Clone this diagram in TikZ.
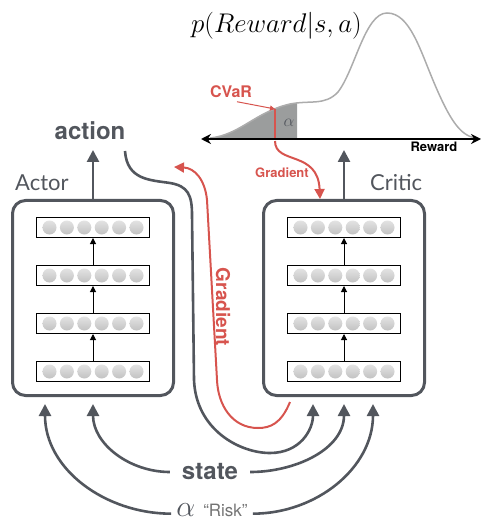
\RequirePackage{fix-cm}
\documentclass[tikz,border=0pt]{standalone}
\usepackage{fontspec}
\newfontfamily\heros{TeX Gyre Heros}
\newfontfamily\lightfont{Lato}
\usetikzlibrary{positioning,arrows.meta}
\definecolor{slate}{RGB}{82,86,93}
\definecolor{gradred}{RGB}{215,84,78}
\definecolor{densgray}{RGB}{172,172,172}
\definecolor{tailgray}{RGB}{155,157,157}

\begin{document}
\begin{tikzpicture}[x=1pt, y=-1pt, node distance = 27pt,
	netbox/.style = { rectangle, draw=slate, line width=3pt,
	rounded corners=13pt, minimum width=161pt, minimum height=195pt},
	layer/.style = { rectangle, draw=black, line width=1pt, fill=white,
	minimum width=113pt, minimum height=20pt, inner sep=0pt},
	neuron/.style = { circle, inner sep=0pt, minimum size=14pt,
	top color=gray!22, bottom color=gray!48},
	flow/.style = { draw=slate, line width=2.6pt,
	-{Triangle[length=12pt, width=12pt]}},
	grad/.style = { draw=gradred, line width=2pt,
	-{Triangle[length=10pt, width=10pt]}},
	feed/.style = { draw=black, line width=1pt,
	-{Triangle[length=6pt, width=6pt]}},
	bold/.style = { font=\heros\bfseries\fontsize{24}{24}\selectfont, text=slate},
	netname/.style = { font=\lightfont\fontsize{22}{22}\selectfont, text=slate,
	inner sep=0pt, anchor=base west} ]

  \useasboundingbox (0,0) rectangle (482,521);

  \node [name=actor, netbox] at (93,298) {};
  \node [name=critic, netbox] at (344,298) {};
  \node [name=actorname, netname] at (15,191) {Actor};
  \node [name=criticname, netname] at (370,191) {Critic};

  \node [name=a1, layer, below=18pt of actor.north] {};
  \node [name=a2, layer, below=of a1] {};
  \node [name=a3, layer, below=of a2] {};
  \node [name=a4, layer, below=of a3] {};
  \node [name=c1, layer, below=18pt of critic.north] {};
  \node [name=c2, layer, below=of c1] {};
  \node [name=c3, layer, below=of c2] {};
  \node [name=c4, layer, below=of c3] {};

  \foreach \l in {a1,a2,a3,a4,c1,c2,c3,c4}
    \foreach \k in {1,...,6}
      \node [name=\l n\k, neuron] at ([xshift={(\k-3.5)*17.4pt}]\l.center) {};

  \foreach \lo/\hi in {a4/a3,a3/a2,a2/a1,c4/c3,c3/c2,c2/c1}
    \draw [feed] (\lo) -- (\hi);

  \node [name=action, bold, anchor=base] at (90,140) {action};
  \coordinate (actout) at (93,150);
  \coordinate (critout) at (344,150);
  \draw [flow] (actor.north) -- (actout);
  \draw [flow] (critic.north) -- (critout);

  \begin{scope}
    \clip (200,0) rectangle (297,139);
    \fill [tailgray] (210,138) .. controls (240,135) and (255,112) .. (290,104)
	.. controls (310,100) and (325,106) .. (338,92)
	.. controls (355,70) and (365,13) .. (387,13)
	.. controls (410,13) and (420,50) .. (435,85)
	.. controls (450,120) and (460,135) .. (475,138) -- cycle;
  \end{scope}
  \draw [densgray, line width=1.5pt] (210,138) .. controls (240,135) and (255,112) .. (290,104)
	.. controls (310,100) and (325,106) .. (338,92)
	.. controls (355,70) and (365,13) .. (387,13)
	.. controls (410,13) and (420,50) .. (435,85)
	.. controls (450,120) and (460,135) .. (475,138);
  \node [name=density, anchor=base west, inner sep=0pt] at (191,33)
	{\fontsize{27}{27}\selectfont$p(Reward|s,a)$};

  \coordinate (cvar) at (275,109);
  \coordinate (cvarbase) at (275,139);
  \draw [gradred, line width=2pt] (cvar) -- (cvarbase);
  \node [name=alphatail, text=slate] at (289,123) {\fontsize{17}{17}\selectfont$\alpha$};
  \node [name=cvarlbl, text=gradred, font=\heros\bfseries\fontsize{16}{16}\selectfont,
	anchor=base] at (231,98) {CVaR};
  \draw [gradred, line width=1pt, -{Triangle[length=5pt, width=5pt]}]
	([xshift=6pt]cvarlbl.south) -- (cvar);

  \coordinate (rleft) at (201,139);
  \coordinate (rright) at (481,139);
  \draw [black, line width=1.6pt, {Stealth[length=10pt, width=10pt]}-{Stealth[length=10pt, width=10pt]}]
	(rleft) -- (rright);
  \node [name=reward, font=\heros\bfseries\fontsize{13}{13}\selectfont, anchor=base]
	at (434,152) {Reward};

  \draw [grad] (275,141) .. controls (275,165) and (318,150) .. ([xshift=-24pt]critic.north);
  \node [name=gradshort, text=gradred, font=\heros\bfseries\fontsize{13}{13}\selectfont,
	anchor=base] at (282,178) {Gradient};

  \coordinate (gradstart) at ([xshift=-54pt, yshift=-5pt]critic.south);
  \coordinate (gradend) at (174,167);
  \draw [grad] (gradstart) .. controls (281,424) and (270,428) .. (258,428)
	.. controls (232,428) and (218,405) .. (217,380) -- (207,200)
	.. controls (205,180) and (195,168) .. (gradend);
  \node [name=gradlong, text=gradred, font=\heros\bfseries\fontsize{19}{19}\selectfont,
	rotate=-90] at (223,307) {Gradient};

  \coordinate (actfb) at (125,151);
  \draw [flow] (actfb) .. controls (127,180) and (150,180) .. (170,183)
	.. controls (188,186) and (192,195) .. (192,215) -- (194,380)
	.. controls (196,430) and (240,453) .. (270,453)
	.. controls (300,453) and (313,430) .. ([xshift=-31pt, yshift=-7pt]critic.south);

  \node [name=state, bold, inner xsep=12pt] at (210,472) {state};
  \draw [flow] (state.west) to [out=180, in=-90] ([yshift=-7pt]actor.south);
  \draw [flow] (state.east) to [out=0, in=-90] ([yshift=-7pt]critic.south);

  \node [name=risk, text=slate, inner xsep=5pt, inner ysep=0pt, anchor=base] at (212,516)
	{{\fontsize{30}{30}\selectfont$\alpha$}\hspace{8pt}{\heros\fontsize{17}{17}\selectfont\color{gray!90!black}“Risk”}};
  \draw [flow] ([yshift=-4pt]risk.west) to [out=180, in=-90] ([xshift=-48pt, yshift=-7pt]actor.south);
  \draw [flow] ([yshift=-4pt]risk.east) to [out=0, in=-90] ([xshift=29pt, yshift=-7pt]critic.south);
\end{tikzpicture}
\end{document}
